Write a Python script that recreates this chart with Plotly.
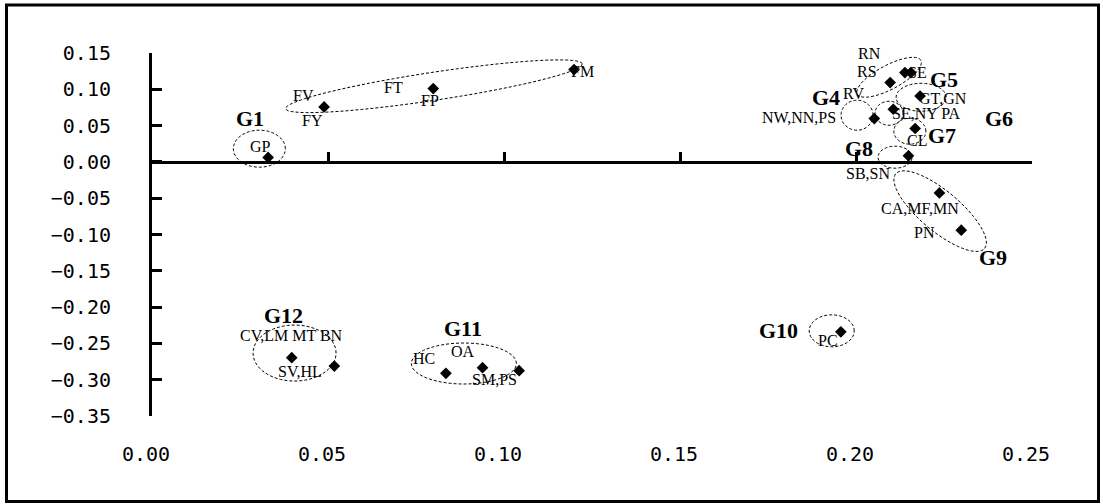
import numpy as np
import plotly.graph_objects as go

# ---------------- data ----------------
x_ticks = [0.00, 0.05, 0.10, 0.15, 0.20, 0.25]
y_ticks = [0.15, 0.10, 0.05, 0.00, -0.05, -0.10, -0.15, -0.20, -0.25, -0.30, -0.35]

point_group = ["G1", "G2", "G2", "G2", "G3", "G3", "G3", "G5", "G6", "G4",
               "G7", "G8", "G9", "G9", "G10", "G11", "G11", "G11", "G12", "G12"]
point_x = [0.0330, 0.0489, 0.0799, 0.1199, 0.2139, 0.2156, 0.2097, 0.2182, 0.2106, 0.2052,
           0.2168, 0.2149, 0.2237, 0.2299, 0.1957, 0.0835, 0.0939, 0.1043, 0.0397, 0.0518]
point_y = [0.0061, 0.0757, 0.1010, 0.1272, 0.1230, 0.1230, 0.1093, 0.0908, 0.0725, 0.0597,
           0.0460, 0.0083, -0.0427, -0.0940, -0.2340, -0.2912, -0.2835, -0.2876, -0.2697, -0.2812]

# member labels (text) and where they sit
member_text = ["GP", "FV", "FY", "FT", "FP", "FM", "RN", "RS", "SE", "RV", "GT,GN",
               "NW,NN,PS", "SE,NY PA", "CL", "SB,SN", "CA,MF,MN", "PN", "PC",
               "HC", "OA", "SM,PS", "CV,LM MT BN", "SV,HL"]
member_x = [0.0307, 0.0429, 0.0457, 0.0685, 0.0790, 0.1222, 0.2037, 0.2031, 0.2176, 0.1992, 0.2248,
            0.1837, 0.2199, 0.2173, 0.2035, 0.2182, 0.2196, 0.1921,
            0.0774, 0.0883, 0.0972, 0.0397, 0.0420]
member_y = [0.0206, 0.0918, 0.0574, 0.1028, 0.0849, 0.1248, 0.1496, 0.1239, 0.1225, 0.0941, 0.0873,
            0.0615, 0.0666, 0.0298, -0.0160, -0.0637, -0.0968, -0.2454,
            -0.2706, -0.2615, -0.3004, -0.2385, -0.2890]

group_names = ["G1", "G2", "G3", "G4", "G5", "G6", "G7", "G8", "G9", "G10", "G11", "G12"]
group_label_x = [0.0277, 0.0852, 0.2151, 0.1915, 0.2250, 0.2407, 0.2244, 0.2009, 0.2389, 0.1779, 0.0884, 0.0373]
group_label_y = [0.0603, 0.1537, 0.1606, 0.0885, 0.1140, 0.0597, 0.0367, 0.0184, -0.1312, -0.2316, -0.2289, -0.2110]

# group ellipses: centre (data), semi-axes (px), tilt (deg, counter-clockwise)
ell_cx = [0.0305, 0.0801, 0.2094, 0.2003, 0.2185, 0.2094, 0.2153, 0.2111, 0.2239, 0.1931, 0.0886, 0.0405]
ell_cy = [0.0182, 0.1042, 0.1166, 0.0643, 0.0890, 0.0670, 0.0423, 0.0065, -0.0678, -0.2327, -0.2777, -0.2633]
ell_a = [26, 150, 36, 16, 25, 14, 16, 17, 58, 22.5, 52.5, 41.5]
ell_b = [18.5, 14, 12, 15, 14, 12, 13, 11, 20, 16, 20.5, 28]
ell_ang = [0, 8.6, 28, 0, 0, 0, 0, 0, -40, 0, 0, 0]

# ---------------- layout geometry ----------------
W, H = 1103, 504
ML, MR, MT, MB = 152, 71, 53, 88
X_RANGE = [0, 0.25]
Y_RANGE = [-0.35, 0.15]
PW, PH = W - ML - MR, H - MT - MB
SX = PW / (X_RANGE[1] - X_RANGE[0])
SY = PH / (Y_RANGE[1] - Y_RANGE[0])


def paper_x(px):
    return (px - ML) / PW


def paper_y(py):
    return (H - MB - py) / PH


fig = go.Figure()

fig.add_trace(go.Scatter(
    x=point_x, y=point_y, mode="markers",
    marker=dict(symbol="diamond", size=9, color="black"),
    text=point_group, hoverinfo="text+x+y",
    showlegend=False, cliponaxis=False,
))
# dummy trace so the overlaying axis (axis line through y = 0) is drawn
fig.add_trace(go.Scatter(x=[None], y=[None], xaxis="x2", yaxis="y",
                         showlegend=False, hoverinfo="skip"))

shapes = []
t = np.linspace(0, 2 * np.pi, 73)
for cx, cy, a, b, ang in zip(ell_cx, ell_cy, ell_a, ell_b, ell_ang):
    phi = np.deg2rad(ang)
    dx = a * np.cos(t) * np.cos(phi) - b * np.sin(t) * np.sin(phi)
    dy = a * np.cos(t) * np.sin(phi) + b * np.sin(t) * np.cos(phi)
    xs = cx + dx / SX
    ys = cy + dy / SY
    path = "M " + " L ".join(f"{u:.5f},{v:.5f}" for u, v in zip(xs, ys)) + " Z"
    shapes.append(dict(type="path", path=path, xref="x", yref="y",
                       line=dict(color="black", width=1, dash="3px,2px")))

# outer frame
shapes.append(dict(type="rect", xref="paper", yref="paper",
                   x0=paper_x(6.5), x1=paper_x(1098.5), y0=paper_y(501.5), y1=paper_y(5),
                   line=dict(color="black", width=3), layer="above"))

annotations = []
for txt, x, y in zip(member_text, member_x, member_y):
    annotations.append(dict(text=txt, x=x, y=y, xref="x", yref="y", showarrow=False,
                            xanchor="center", yanchor="middle",
                            font=dict(family="Liberation Serif", size=16, color="black")))
for txt, x, y in zip(group_names, group_label_x, group_label_y):
    annotations.append(dict(text=f"<b>{txt}</b>", x=x, y=y, xref="x", yref="y", showarrow=False,
                            xanchor="center", yanchor="middle",
                            font=dict(family="Liberation Serif", size=22, color="black")))

tick_font = dict(family="DejaVu Sans Mono", size=20, color="black")

fig.update_layout(
    width=W, height=H,
    margin=dict(l=ML, r=MR, t=MT, b=MB, pad=0),
    paper_bgcolor="white", plot_bgcolor="rgba(0,0,0,0)",
    showlegend=False,
    shapes=shapes, annotations=annotations,
    xaxis=dict(range=X_RANGE, domain=[0, 1], anchor="y",
               showline=False, showgrid=False, zeroline=False, ticks="",
               tickvals=x_ticks, tickformat=".2f", tickfont=tick_font,
               ticklabelstandoff=24, ticklabelshift=-6),
    xaxis2=dict(range=X_RANGE, overlaying="x", anchor="free",
                position=(0 - Y_RANGE[0]) / (Y_RANGE[1] - Y_RANGE[0]),
                showline=True, linewidth=3, linecolor="black",
                ticks="inside", ticklen=9, tickwidth=3, tickcolor="black",
                tickvals=x_ticks[1:], showticklabels=False,
                showgrid=False, zeroline=False),
    yaxis=dict(range=Y_RANGE, domain=[0, 1], anchor="x",
               showline=True, linewidth=3, linecolor="black",
               ticks="inside", ticklen=10, tickwidth=3, tickcolor="black",
               tickvals=y_ticks, tickformat=".2f", tickfont=tick_font,
               ticklabelstandoff=34,
               showgrid=False, zeroline=False),
)

fig.write_html("out.html", config={"displayModeBar": False},
               post_script="document.body.style.margin='0';document.body.style.overflow='hidden';")
